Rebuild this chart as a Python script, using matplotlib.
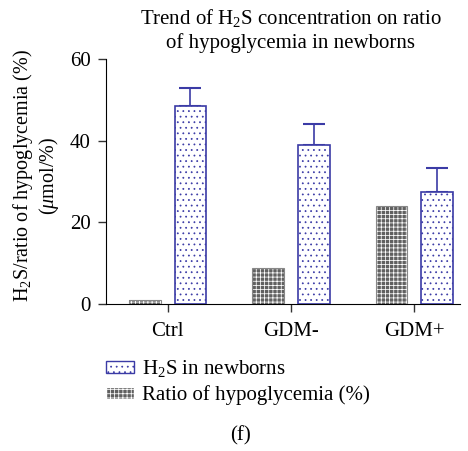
import numpy as np
import matplotlib
matplotlib.use('Agg')
import matplotlib.pyplot as plt
from matplotlib.patches import Patch

plt.rcParams['font.family'] = ['Liberation Serif', 'DejaVu Serif']
plt.rcParams['mathtext.fontset'] = 'custom'
plt.rcParams['mathtext.rm'] = 'Liberation Serif'
plt.rcParams['mathtext.it'] = 'Liberation Serif:italic'
plt.rcParams['hatch.linewidth'] = 0.55

# group labels and series values
groups = ['Ctrl', 'GDM-', 'GDM+']
h2s_newborns = [48.4, 39.0, 27.4]
h2s_sem = [4.5, 5.2, 5.8]
hypo_ratio = [1.0, 8.7, 23.9]

blue = '#3b3ba6'
gray = '#606060'

fig = plt.figure(figsize=(4.68, 4.51), dpi=100)
ax = fig.add_axes([106 / 468, 1 - 304 / 451, 354 / 468, 245 / 451])

x = np.arange(len(groups))
w = 0.255
off = 0.185

# hypoglycemia ratio: dark gray with white grid hatch
ax.bar(x - off, hypo_ratio, w, color=gray, edgecolor='white', hatch='++++', linewidth=0, zorder=2)
ax.bar(x - off, hypo_ratio, w, fill=False, edgecolor='#888888', linewidth=0.8, zorder=3)

# H2S: white with blue dotted hatch
ax.bar(x + off, h2s_newborns, w, color='white', edgecolor=blue, hatch='...', linewidth=0, zorder=2)
ax.bar(x + off, h2s_newborns, w, fill=False, edgecolor=blue, linewidth=1.2, zorder=3)
ax.errorbar(x + off, h2s_newborns, yerr=[[0] * 3, h2s_sem], fmt='none', ecolor=blue,
            elinewidth=1.2, capsize=8, capthick=1.5, zorder=1)

ax.set_xlim(-0.5, 2.37)
ax.set_ylim(0, 60)
ax.set_yticks([0, 20, 40, 60])
ax.set_xticks(x)
ax.set_xticklabels(groups)
ax.spines['top'].set_visible(False)
ax.spines['right'].set_visible(False)
ax.tick_params(labelsize=15, length=6, width=1, color='#333333')
ax.tick_params(axis='y', pad=5)
ax.tick_params(axis='x', pad=7)

fig.text(291 / 468, 1 - 7 / 451,
         'Trend of H$_2$S concentration on ratio\nof hypoglycemia in newborns',
         ha='center', va='top', fontsize=15, linespacing=1.3)
fig.text(23 / 468, 1 - 176 / 451, 'H$_2$S/ratio of hypoglycemia (%)',
         rotation=90, ha='center', va='center', fontsize=14.5)
fig.text(49 / 468, 1 - 176 / 451, '($\\mathit{\\mu}$mol/%)',
         rotation=90, ha='center', va='center', fontsize=14.5)

handles = [Patch(facecolor='white', edgecolor=blue, hatch='...'),
           Patch(facecolor=gray, edgecolor='white', hatch='++++')]
fig.legend(handles, ['H$_2$S in newborns', 'Ratio of hypoglycemia (%)'],
           loc='upper left', bbox_to_anchor=(106 / 468, 1 - 358 / 451),
           frameon=False, fontsize=15, handlelength=1.35, handleheight=0.5,
           labelspacing=0.3, handletextpad=0.4, borderpad=0, borderaxespad=0)

fig.text(241 / 468, 1 - 436 / 451, '(f)', ha='center', va='center', fontsize=15)

fig.savefig('out.png', dpi=100)
